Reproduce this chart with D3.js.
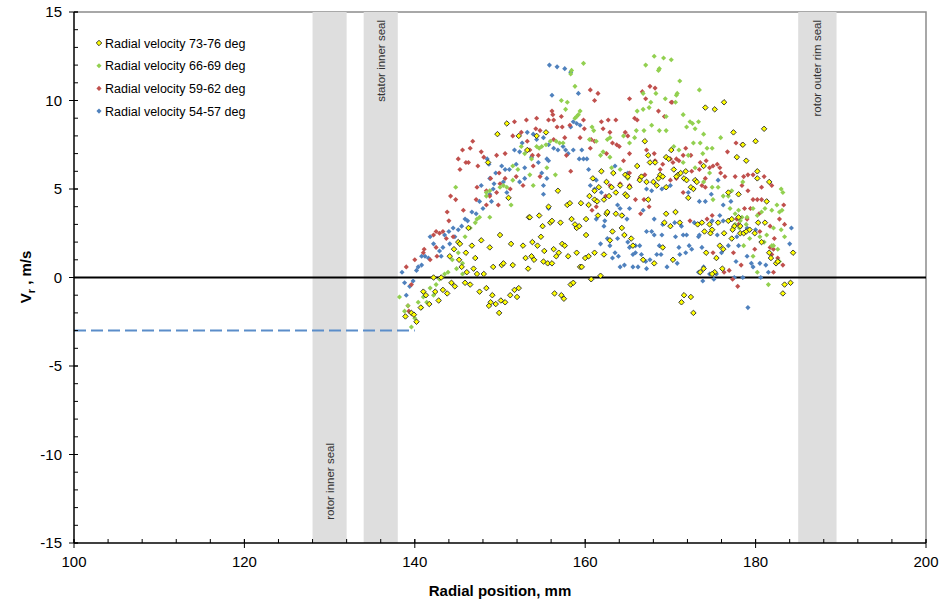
<!DOCTYPE html>
<html>
<head>
<meta charset="utf-8">
<script src="https://cdn.jsdelivr.net/npm/d3@7"></script>
<style>
  body { margin: 0; background: #fff; }
  svg { font-family: "Liberation Sans", Arial, sans-serif; }
</style>
</head>
<body>
<svg id="chart" width="943" height="604"></svg>
<script>
// radial position (mm), radial velocity (m/s)
const yellow7376 = [
  [138.9,-2.2],[139.6,-2.0],[140.2,-2.5],[139.9,-2.1],[141.0,-0.8],[141.3,-1.0],[141.7,-1.5],[140.7,-1.7],[142.2,0.0],[142.4,-0.8],
  [143.1,0.0],[143.3,-0.7],[143.8,-0.9],[142.8,-1.3],[144.3,-0.3],[144.7,-0.5],[144.1,1.2],[144.6,1.6],[145.2,1.0],[145.1,2.0],
  [145.5,0.6],[145.3,1.9],[145.9,-0.3],[146.1,0.3],[146.0,1.4],[146.3,2.8],[146.7,1.8],[146.5,-0.4],[146.9,0.5],[147.1,1.1],
  [147.3,0.2],[147.6,-0.8],[148.1,0.2],[148.4,-0.6],[147.8,2.1],[148.8,1.7],[149.1,-1.0],[148.9,-1.4],[148.7,-1.6],[149.2,0.6],
  [149.5,-1.5],[150.0,2.4],[150.1,-1.3],[150.2,0.7],[150.4,0.8],[150.6,-1.4],[149.9,-2.0],[151.3,1.9],[151.5,0.7],[151.7,-0.7],
  [152.0,-1.1],[151.2,-1.0],[152.2,-0.6],[152.7,1.8],[153.0,1.1],[153.3,0.5],[153.4,3.4],[151.0,4.5],
  [150.8,8.7],[149.7,8.1],[152.2,8.0],[153.2,7.2],[148.6,6.5],
  [155.4,8.2],[154.3,8.0],[167.0,7.7],[167.4,6.9],[168.2,6.5],[167.6,6.5],[166.1,6.3],[169.5,6.8],[169.8,6.7],[163.3,5.9],
  [161.9,6.0],[160.9,5.6],[164.7,5.8],[165.0,5.7],[166.6,5.7],[168.8,5.8],[169.1,5.7],[168.6,5.6],[168.0,5.4],[168.4,5.2],
  [167.2,5.4],[164.1,5.2],[163.1,5.1],[165.2,5.1],[161.6,5.1],[161.1,4.9],[166.4,5.5],[162.5,5.4],[156.8,4.9],[163.6,4.8],
  [164.7,4.7],[169.5,5.1],
  [155.7,4.0],[154.6,3.5],[153.5,3.4],[155.0,2.9],[155.9,3.1],[156.1,3.2],[157.1,3.1],[157.9,4.1],[158.2,4.2],[159.5,4.2],
  [160.5,4.6],[160.4,4.1],[161.1,4.4],[161.4,4.3],[162.2,4.4],[162.8,4.6],[158.4,3.3],[158.8,3.0],[159.0,2.8],[159.3,2.9],
  [160.1,3.3],[161.5,3.5],[162.5,3.6],[163.6,3.6],[162.6,3.7],[164.3,3.5],[153.8,2.0],[154.8,2.3],[154.4,1.8],[155.2,1.5],
  [156.3,1.6],[157.3,1.9],[157.6,1.8],[153.7,1.2],[154.0,1.0],[155.1,0.9],[155.6,0.8],[156.1,0.8],[156.6,1.2],[156.9,1.4],
  [158.0,1.2],[159.0,1.4],[160.1,2.4],[160.0,1.1],[160.4,1.2],[161.1,1.4],[162.2,1.3],[159.4,0.6],[159.6,0.6],[160.7,-0.1],
  [161.8,0.1],[158.3,-0.4],[158.6,-0.3],[156.4,-0.9],[157.2,-1.0],[157.5,-1.2],[162.9,2.1],[163.2,2.6],[164.3,2.8],[164.6,2.4],
  [165.4,2.2],[165.6,1.8],[166.8,1.0],[168.1,0.8],[169.1,1.7],[169.3,3.1],[169.5,3.6],[164.9,4.6],[167.4,4.4],
  [172.1,4.5],[178.0,4.7],[181.3,4.3],[170.6,3.7],[170.0,2.9],[171.1,3.1],[173.2,3.0],[173.7,3.1],[174.6,3.0],[175.6,3.1],
  [176.8,3.2],[177.2,3.3],[178.0,3.4],[178.2,2.9],[177.5,2.9],[177.3,2.7],[174.0,2.6],[174.7,2.5],[174.9,2.7],[176.3,2.5],
  [177.2,2.2],[178.2,2.5],[178.6,2.5],[178.9,2.6],[179.3,2.7],[179.9,2.5],[180.3,3.1],[181.1,3.1],[180.7,2.0],[175.8,1.8],
  [176.2,1.6],[174.2,1.4],[175.4,1.1],[181.6,1.4],[181.8,1.1],[182.4,0.8],[182.6,0.9],[184.4,1.4],[170.3,1.0],[176.1,0.5],
  [173.9,0.5],[173.5,0.3],[175.2,0.3],[174.9,0.2],[183.4,-0.4],[184.1,-0.3],[183.2,-0.9],[171.6,-1.0],[172.4,-1.1],[171.3,-1.4],
  [172.7,-2.0],
  [174.1,9.6],[175.2,9.5],[176.3,9.9],[177.4,8.2],[181.0,8.4],[180.0,7.7],[178.5,7.5],[177.8,6.8],[178.9,6.6],[173.9,6.3],
  [170.1,7.2],[170.4,6.1],[171.8,6.0],[170.9,5.8],[171.2,5.9],[170.7,5.7],[171.6,5.6],[171.9,5.5],[172.9,5.5],[173.1,5.4],
  [172.4,5.1],[172.7,5.0],[180.2,6.0],[180.2,5.6],[181.6,5.4],[176.8,4.8]
]

const green6669 = [
  [138.2,-1.1],[138.8,-1.9],[139.2,-1.6],[139.6,-2.8],[140.4,-1.4],[141.0,-1.1],[141.8,-0.6],[142.5,-0.4],[142.9,-0.1],[143.5,0.2],
  [143.9,0.3],[144.9,0.5],[145.6,0.2],[144.4,1.0],[145.1,1.4],[145.9,2.3],[146.5,2.8],[147.1,3.1],[147.3,3.3],[147.6,3.4],
  [148.8,3.4],[151.3,4.1],[148.4,4.6],[140.0,-2.3],[140.8,-1.7],[141.4,-1.4],[142.2,-1.0],[145.6,0.8],
  [144.8,5.1],[152.5,7.4],[152.9,7.0],[153.3,7.2],[151.5,6.3],[152.1,6.1],[150.4,5.2],[150.0,5.1],[150.8,5.1],[151.5,5.5],
  [148.8,4.9],[148.4,4.8],
  [159.8,12.1],[158.3,11.5],[168.1,12.5],[168.7,11.8],[167.1,12.0],[158.8,10.8],[157.2,10.0],[157.9,9.9],[157.7,9.5],[159.4,9.4],
  [159.2,9.2],[159.0,9.1],[158.8,9.0],[168.3,10.4],[167.7,9.9],[167.5,9.6],[166.8,9.5],[166.1,9.4],[169.5,9.1],[168.7,8.3],
  [167.8,8.6],[166.9,8.3],[166.0,8.3],[160.8,8.5],[161.0,8.3],[169.5,8.3],[165.8,7.9],[165.2,7.6],[162.9,7.9],[162.6,7.8],
  [161.3,7.7],[160.5,7.8],[162.1,7.1],[161.8,6.9],[162.9,6.8],[164.5,8.0],[156.6,7.7],[157.0,7.6],[157.4,7.6],[155.9,7.7],
  [155.4,7.5],[154.3,7.4],[154.6,7.3],[154.9,7.4],[153.7,6.7],[155.5,6.2],[153.5,5.8],[156.5,5.8],[153.9,5.2],[163.3,5.9],
  [164.1,6.1],[165.0,5.6],[163.1,6.2],
  [169.2,12.4],[170.1,12.3],[168.6,11.7],[171.1,11.1],[169.4,10.1],[170.7,10.3],[171.5,9.2],[173.4,10.6],[173.9,8.1],[166.8,10.4],
  [158.4,11.7],[170.8,10.4],[170.6,9.9],[172.3,8.8],[172.6,8.7],[173.3,8.8],[171.9,8.5],[172.9,8.4],[175.9,7.9],[172.7,7.6],
  [173.5,7.6],[174.3,7.3],[174.9,7.3],[173.8,7.0],[170.4,7.4],[171.0,7.2],[172.1,6.9],[171.5,6.5],[172.9,6.2],[174.6,5.9],
  [173.9,5.4],[174.9,5.1],[175.6,5.1],[178.5,5.4],[177.2,4.9],[183.0,5.0],[183.2,4.8],
  [176.2,4.6],[176.8,4.6],[175.0,4.4],[177.0,3.9],[177.6,3.6],[178.0,3.8],[178.4,3.4],[179.0,3.4],[178.2,3.2],[177.6,3.0],
  [177.4,2.8],[178.1,2.8],[178.9,3.0],[179.7,3.9],[180.2,3.5],[180.7,3.7],[181.1,3.9],[182.5,4.1],[181.9,3.8],[183.0,2.7],
  [183.4,2.3],[181.0,2.0],[181.3,2.4],[181.9,1.8],[182.1,1.8],[182.6,1.6],[182.8,0.9],[180.2,0.3],[179.7,1.2],[178.6,1.8],
  [180.5,2.3],[181.5,-0.4],[179.3,2.2],[182.1,2.8],[183.1,3.8],[182.8,3.7]
]

const red5962 = [
  [144.2,4.6],[144.8,4.4],[143.8,3.7],[145.7,3.8],[144.0,3.2],[142.5,2.6],[142.9,2.5],[143.3,2.6],[142.2,2.4],[143.7,2.2],
  [144.5,2.3],[141.1,1.6],[141.0,1.4],[140.0,1.0],[139.0,0.6],[141.8,1.0],[142.5,1.7],[139.6,-0.4],[139.3,-1.9],[139.2,-1.6],
  [142.6,1.2],[147.2,4.4],[148.4,4.1],[149.8,4.1],[153.4,3.4],[148.8,4.6],
  [146.8,7.7],[146.5,7.3],[145.6,7.2],[147.8,7.1],[145.1,6.7],[146.0,6.5],[146.3,6.5],[145.3,6.1],[147.4,6.3],[148.1,6.8],
  [149.6,6.9],[150.6,7.0],[151.7,8.8],[153.1,8.9],[151.5,8.0],[152.5,8.2],[153.2,7.7],[149.9,5.9],[148.9,5.6],[150.6,5.6],
  [150.0,5.3],[147.3,5.1],[148.4,4.9],[151.2,5.0],[152.7,5.2],[151.9,5.7],[149.6,4.8],
  [160.6,10.6],[161.5,10.4],[161.1,10.0],[165.2,10.1],[166.7,10.5],[167.6,10.8],[168.6,9.4],[169.3,9.1],[167.1,10.1],[154.3,9.0],
  [155.7,8.9],[156.3,8.9],[157.2,9.1],[156.1,9.4],[159.8,8.9],[161.9,8.8],[162.7,8.9],[163.6,8.9],[154.2,8.4],[154.7,8.3],
  [156.7,8.5],[157.3,8.5],[158.2,8.6],[159.9,8.4],[162.1,8.4],[162.9,8.2],[164.7,8.2],[165.0,8.0],[156.3,7.8],[157.6,7.9],
  [159.4,7.9],[160.7,7.8],[161.1,7.7],[163.2,7.6],[163.7,7.5],[164.0,7.4],[153.5,7.2],[153.8,6.9],[154.5,6.9],[157.8,6.9],
  [160.6,7.3],[162.5,7.0],[164.5,6.6],[167.2,7.2],[168.1,7.0],[165.2,7.0],[153.9,6.3],[158.3,6.0],[154.7,5.7],[162.9,5.2],
  [165.2,5.2],[164.1,5.3],[166.4,5.6],[167.0,5.8],[165.2,5.9],[169.1,6.4],[168.2,6.6],[168.8,6.1],
  [160.8,3.8],[161.3,4.0],[165.9,4.4],[166.9,4.4],[167.5,4.0],[166.5,3.6],[162.4,4.6],
  [165.8,9.0],[156.2,9.2],[170.2,9.9],[166.1,8.9],[168.2,10.7],
  [170.1,9.9],[171.8,7.3],[171.5,6.9],[172.4,6.9],[170.0,6.7],[170.7,6.7],[171.0,6.6],[170.3,6.5],[173.5,6.5],[174.2,6.6],
  [176.7,7.1],[177.7,7.6],[178.4,7.5],[175.0,6.3],[175.5,6.4],[175.8,6.2],[174.6,6.2],[173.4,6.1],[172.5,6.0],[174.1,5.6],
  [175.9,5.9],[176.4,5.7],[177.6,5.7],[178.6,5.7],[179.1,5.8],[179.7,5.8],[181.0,5.7],[180.7,5.1],[181.9,5.2],[178.4,5.2],
  [179.1,4.9],[170.0,5.5],[170.7,5.6],[173.7,5.2],[174.1,5.1],[171.5,4.8],
  [179.7,4.4],[180.2,4.4],[180.7,4.4],[179.4,3.9],[178.7,3.9],[180.4,3.6],[183.3,4.1],[182.8,3.3],[183.4,3.0],[182.2,2.2],
  [172.3,3.2],[174.3,3.3],[174.9,3.5],[177.8,3.3],[178.0,3.0],[179.0,3.3],[181.7,2.9],[180.5,2.6],[181.7,1.7],[182.1,1.6],
  [181.9,1.3],[182.6,1.1],[183.2,0.7],[175.0,1.4],[177.4,1.4],[178.3,0.7],[179.9,1.6],[176.3,0.3],[176.9,0.4],[177.3,-0.1],
  [177.9,-0.5],[182.1,0.3]
]

const blue5457 = [
  [147.6,4.3],[146.7,3.7],[145.9,3.3],[146.2,3.2],[145.5,2.9],[145.1,2.7],[144.7,2.3],[144.1,1.9],[143.3,1.7],[143.1,1.2],
  [142.2,1.9],[141.8,2.3],[141.2,1.2],[140.8,1.2],[141.6,1.1],[140.4,0.6],[140.2,0.4],[138.5,0.3],[138.8,-0.3],[139.4,-0.5],
  [139.0,-1.0],[139.8,-0.2],[148.8,4.7],[149.0,4.3],[148.0,3.9],[147.2,3.6],[144.5,2.8],[144.0,2.6],[143.5,2.4],[142.9,1.5],
  [140.8,0.7],
  [153.2,8.2],[152.6,7.6],[151.7,7.2],[152.3,7.1],[148.5,6.7],[148.7,6.4],[150.2,6.3],[149.5,5.9],[150.6,6.1],[151.1,6.1],
  [151.9,6.4],[152.9,6.2],[148.8,5.6],[149.3,5.3],[150.4,5.4],[147.8,5.2],[149.2,5.0],[150.8,4.8],[152.3,5.4],[152.9,5.6],
  [155.8,12.0],[156.7,11.9],[157.6,11.8],[158.3,11.6],[156.1,10.3],[159.2,10.4],[158.6,8.8],[159.0,8.7],[158.3,8.5],[159.4,8.6],
  [153.9,8.1],[155.1,7.9],[154.3,7.8],[155.7,7.5],[156.3,7.3],[156.8,7.2],[157.4,7.4],[157.7,7.2],[158.0,7.0],[158.6,7.2],
  [159.3,6.7],[159.8,6.7],[160.2,6.7],[159.6,7.2],[155.5,6.7],[155.7,6.6],[154.5,6.5],[153.7,6.8],[154.9,5.9],[155.5,5.6],
  [155.1,5.2],[160.4,6.1],[160.6,5.2],[161.1,5.0],[161.3,5.5],[161.9,4.8],[155.1,4.7],
  [163.8,4.1],[164.1,3.9],[165.2,3.9],[166.8,3.8],[164.4,3.5],[164.9,3.3],[161.3,3.3],[162.3,3.2],[162.2,2.9],[168.1,3.3],
  [169.1,3.0],[167.2,2.6],[167.8,2.6],[168.1,2.4],[169.0,2.4],[162.6,2.2],[163.8,2.2],[161.8,1.9],[162.9,1.8],[165.0,2.0],
  [165.2,1.7],[165.9,1.8],[166.4,1.8],[165.9,1.4],[165.6,1.3],[166.6,1.3],[163.5,1.4],[163.9,1.2],[163.2,1.1],[168.7,1.8],
  [168.4,1.3],[168.9,1.3],[167.6,1.0],[167.1,0.9],[164.6,0.7],[164.1,0.6],[165.6,0.6],[166.2,0.6],[167.2,0.5],[169.6,0.6],
  [155.7,3.9],
  [173.4,4.3],[174.1,4.3],[174.8,4.7],[176.2,4.1],[177.1,4.3],[175.8,3.5],[174.9,3.2],[176.2,3.2],[170.5,3.1],[171.3,2.9],
  [172.8,3.1],[170.6,2.3],[171.5,2.4],[171.9,2.4],[173.3,2.3],[173.4,2.4],[175.5,2.4],[177.8,2.3],[178.2,2.5],[179.0,2.8],
  [180.0,2.7],[178.0,1.8],[176.8,1.8],[171.0,1.7],[172.2,1.8],[172.5,1.6],[173.7,1.7],[171.8,1.4],[171.1,1.3],[170.3,1.0],
  [170.8,0.8],[173.9,0.6],[173.3,0.3],[173.8,-0.2],[174.6,0.2],[175.4,0.2],[175.1,-0.1],[177.5,0.0],[178.5,0.0],[180.6,0.0],
  [179.0,1.2],[179.5,0.8],[180.5,0.8],[181.2,0.7],[179.7,0.6],[181.5,0.3],[184.0,1.9],[184.2,2.8],[179.1,-1.7],[176.0,1.4],
  [177.7,0.9],[170.0,5.2],[172.1,4.8],[175.6,5.5],[167.2,5.0],[167.8,4.9],[169.0,5.0],[163.5,6.3],[165.0,5.9]
]

const seriesNames = ['Radial velocity 73-76 deg', 'Radial velocity 66-69 deg', 'Radial velocity 59-62 deg', 'Radial velocity 54-57 deg']
const seriesColors = ['#ffff00', '#92d050', '#c0504d', '#4f81bd']

// seal bands [from, to, label]
const bands = [[128, 132, 'rotor inner seal'], [134, 138, 'stator inner seal'], [185, 189.5, 'rotor outer rim seal']]
const dashedRef = [[100, -3], [140, -3]]

const xTicks = [100, 120, 140, 160, 180, 200]
const yTicks = [-15, -10, -5, 0, 5, 10, 15]

const svg = d3.select('#chart')
const x = d3.scaleLinear().domain([100, 200]).range([74, 926])
const y = d3.scaleLinear().domain([-15, 15]).range([543, 12])

// frame (top/right grey)
svg.append('path')
  .attr('d', `M${x(100)},${y(15)}H${x(200)}V${y(-15)}`)
  .attr('fill', 'none').attr('stroke', '#8c8c8c').attr('stroke-width', 1.5)

// bands
svg.selectAll('.band').data(bands).enter().append('rect')
  .attr('class', 'band')
  .attr('x', d => x(d[0]))
  .attr('width', d => x(d[1]) - x(d[0]))
  .attr('y', y(15))
  .attr('height', y(-15) - y(15))
  .attr('fill', '#dedede')

const bandLabelY = [443, 20, 20]
svg.selectAll('.bandlabel').data(bands).enter().append('text')
  .attr('class', 'bandlabel')
  .attr('transform', (d, i) => `translate(${x((d[0] + d[1]) / 2) + 4},${bandLabelY[i]}) rotate(-90)`)
  .attr('text-anchor', 'end')
  .attr('font-size', 11.5)
  .attr('fill', '#333')
  .text(d => d[2])

// zero line
svg.append('line')
  .attr('x1', x(100)).attr('x2', x(200))
  .attr('y1', y(0)).attr('y2', y(0))
  .attr('stroke', '#000').attr('stroke-width', 2)

// dashed reference
svg.append('path')
  .attr('d', d3.line().x(d => x(d[0])).y(d => y(d[1]))(dashedRef))
  .attr('fill', 'none').attr('stroke', '#5b8dc9').attr('stroke-width', 2)
  .attr('stroke-dasharray', '12,5')

// markers
const diamond = d3.symbol().type(d3.symbolSquare)
const order = [3, 2, 1, 0]
const allSeries = [yellow7376, green6669, red5962, blue5457]
order.forEach(si => {
  const isYellow = si === 0
  svg.append('g').selectAll('path')
    .data(allSeries[si]).enter().append('path')
    .attr('d', diamond.size(isYellow ? 15 : 13)())
    .attr('transform', d => `translate(${x(d[0])},${y(d[1])}) rotate(45)`)
    .attr('fill', seriesColors[si])
    .attr('stroke', isYellow ? '#333' : 'none')
    .attr('stroke-width', isYellow ? 0.9 : 0)
})

// axes
const axisG = svg.append('g').attr('stroke', '#000')
axisG.append('line').attr('x1', x(100)).attr('x2', x(100)).attr('y1', y(15)).attr('y2', y(-15)).attr('stroke-width', 1.5)
axisG.append('line').attr('x1', x(100)).attr('x2', x(200)).attr('y1', y(-15)).attr('y2', y(-15)).attr('stroke-width', 1.5)

axisG.selectAll('.ymin').data(d3.range(-15, 16, 1)).enter().append('line')
  .attr('x1', x(100)).attr('x2', x(100) + 4)
  .attr('y1', d => y(d)).attr('y2', d => y(d)).attr('stroke-width', 1)
axisG.selectAll('.ymaj').data(yTicks).enter().append('line')
  .attr('x1', x(100) - 5).attr('x2', x(100) + 4)
  .attr('y1', d => y(d)).attr('y2', d => y(d)).attr('stroke-width', 1)
axisG.selectAll('.xmin').data(d3.range(100, 201, 4)).enter().append('line')
  .attr('x1', d => x(d)).attr('x2', d => x(d))
  .attr('y1', y(-15)).attr('y2', y(-15) - 4).attr('stroke-width', 1)
axisG.selectAll('.xmaj').data(xTicks).enter().append('line')
  .attr('x1', d => x(d)).attr('x2', d => x(d))
  .attr('y1', y(-15) - 4).attr('y2', y(-15) + 5).attr('stroke-width', 1)

svg.selectAll('.ylab').data(yTicks).enter().append('text')
  .attr('x', 62).attr('y', d => y(d) + 5)
  .attr('text-anchor', 'end').attr('font-size', 15)
  .text(d => d)
svg.selectAll('.xlab').data(xTicks).enter().append('text')
  .attr('x', d => x(d)).attr('y', 567)
  .attr('text-anchor', 'middle').attr('font-size', 15)
  .text(d => d)

// axis titles
svg.append('text')
  .attr('x', 500).attr('y', 596)
  .attr('text-anchor', 'middle').attr('font-size', 15).attr('font-weight', 'bold')
  .text('Radial position, mm')
const yt = svg.append('text')
  .attr('transform', 'translate(31,277) rotate(-90)')
  .attr('text-anchor', 'middle').attr('font-size', 15).attr('font-weight', 'bold')
yt.append('tspan').text('V')
yt.append('tspan').attr('font-size', 11).attr('dy', 4).text('r')
yt.append('tspan').attr('dy', -4).text(' , m/s')

// legend
const leg = svg.append('g')
seriesNames.forEach((name, i) => {
  const ly = 43 + i * 22.7
  leg.append('path')
    .attr('d', diamond.size(i === 0 ? 15 : 13)())
    .attr('transform', `translate(99,${ly}) rotate(45)`)
    .attr('fill', seriesColors[i])
    .attr('stroke', i === 0 ? '#333' : 'none')
    .attr('stroke-width', 0.9)
  leg.append('text')
    .attr('x', 105).attr('y', ly + 4.5)
    .attr('font-size', 12.5)
    .text(name)
})
</script>
</body>
</html>
